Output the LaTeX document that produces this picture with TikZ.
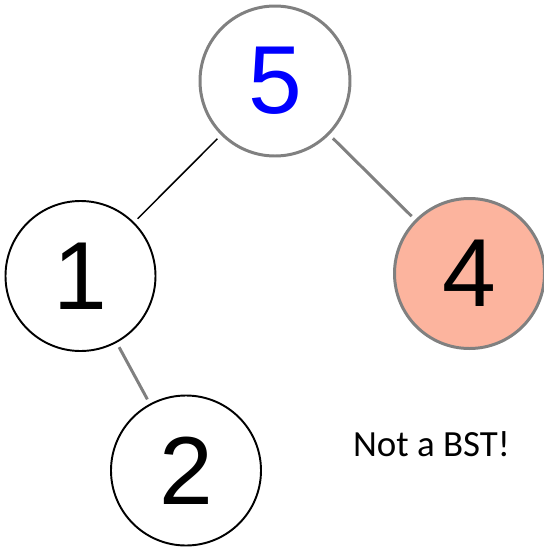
\documentclass[tikz,border=0pt]{standalone}
\usepackage{fontspec}
\setmainfont{Liberation Sans}
\newfontfamily\notefont{Carlito}
\usetikzlibrary{positioning}
\definecolor{keygray}{RGB}{128,128,128}
\definecolor{badfill}{RGB}{252,180,158}
\tikzset{
    key/.style={circle, draw=black, line width=1.1pt, fill=white,
            minimum size=3cm, inner sep=0pt,
            font=\fontsize{55}{60}\selectfont},
    graykey/.style={key, draw=keygray, line width=1.7pt},
    link/.style={draw=black, line width=0.85pt, shorten <=0.1cm, shorten >=0.1cm},
    graylink/.style={link, draw=keygray, line width=1.7pt}
}

\begin{document}
\begin{tikzpicture}
            \useasboundingbox (0,0) rectangle (10.88,-10.96);
            \node[graykey, text=blue] (n5) at (5.50,-1.62) {5};
            \node[key] (n1) at (1.61,-5.52) {1};
            \node[graykey, fill=badfill] (n4) at (9.39,-5.47) {4};
            \node[key] (n2) at (3.72,-9.41) {2};
            \node[font=\notefont\fontsize{21}{25}\selectfont] (note) at (8.63,-8.88) {Not a BST!};
            \draw[link] (n5) -- (n1);
            \draw[graylink] (n5) -- (n4);
            \draw[graylink] (n1) -- (n2);
        \end{tikzpicture}
\end{document}
